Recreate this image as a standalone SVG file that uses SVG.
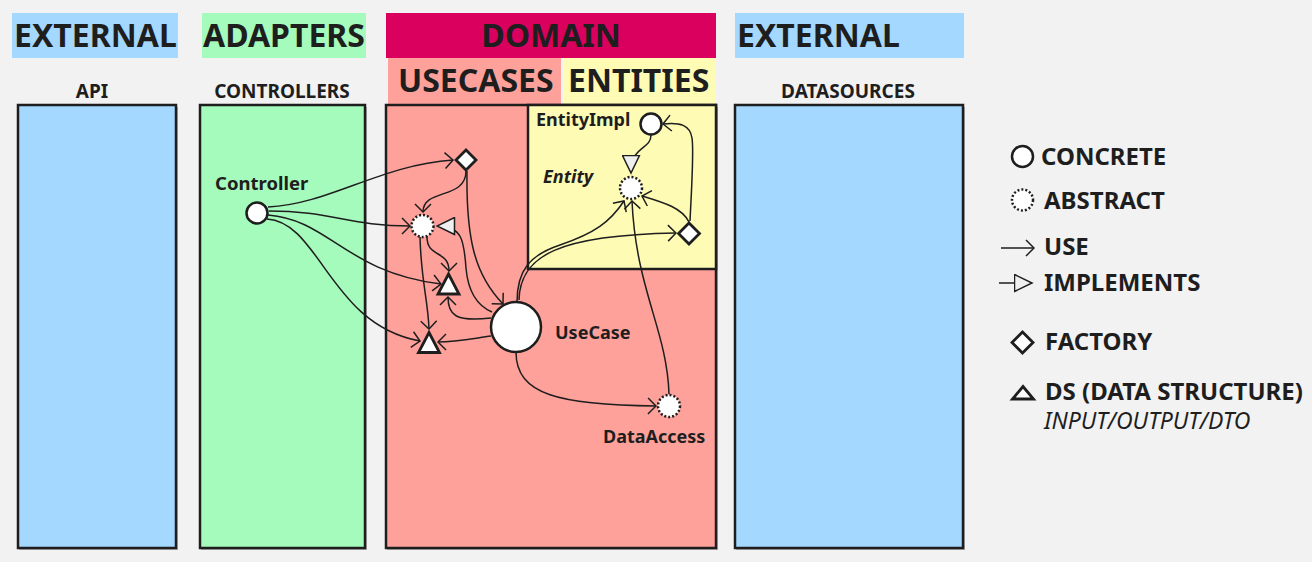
<svg xmlns="http://www.w3.org/2000/svg" width="1312" height="562" viewBox="0 0 1312 562">
<style>
text{font-family:"Noto Sans","Open Sans","Liberation Sans",sans-serif;fill:#1e1e1e;font-weight:bold}
.h{font-size:32px}
.sub{font-size:19px;text-anchor:middle}
.lbl{font-size:18px}
.ctl{font-size:18.5px}
.leg{font-size:24px}
.note{font-size:23px;font-style:italic;font-weight:normal}
.col{stroke:#1e1e1e;stroke-width:2.5}
.shadow{fill:#b0b0b0}
.conc{fill:#fff;stroke:#1e1e1e;stroke-width:2.5}
.abs{fill:#fff;stroke:#1e1e1e;stroke-width:2.5;stroke-dasharray:2 2}
.shape{fill:#fff;stroke:#1e1e1e;stroke-width:2.8;stroke-linejoin:miter}
.c{fill:none;stroke:#1e1e1e;stroke-width:1.5}
.u{marker-end:url(#use)}
.i{marker-end:url(#impl)}
</style>
<defs>
<marker id="use" viewBox="0 0 10 18" refX="9" refY="9" markerWidth="10" markerHeight="18" markerUnits="userSpaceOnUse" orient="auto">
<path d="M1,1 L9,9 L1,17" fill="none" stroke="#1e1e1e" stroke-width="1.5"/>
</marker>
<marker id="impl" viewBox="-1 -1 20 19" refX="17.5" refY="8.5" markerWidth="20" markerHeight="19" markerUnits="userSpaceOnUse" orient="auto">
<path d="M0,0 L17.5,8.5 L0,17 Z" fill="#efefef" stroke="#1e1e1e" stroke-width="1.5" stroke-linejoin="miter"/>
</marker>
</defs>
<rect width="1312" height="562" fill="#f2f2f2"/>

<g id="headers">
<rect x="12" y="13" width="166" height="45" fill="#a5d8ff"/>
<text class="h" x="14" y="47">EXTERNAL</text>
<rect x="202" y="13" width="164" height="45" fill="#a5fbbb"/>
<text class="h" x="203" y="47">ADAPTERS</text>
<rect x="386" y="13" width="330" height="45" fill="#d9005e"/>
<text class="h" x="551" y="47" text-anchor="middle">DOMAIN</text>
<rect x="388" y="58" width="173" height="46" fill="#ffa19b"/>
<text class="h" x="398" y="92">USECASES</text>
<rect x="563" y="58" width="153" height="46" fill="#fefbb5"/>
<text class="h" x="568" y="92">ENTITIES</text>
<rect x="735" y="13" width="229" height="45" fill="#a5d8ff"/>
<text class="h" x="737" y="47">EXTERNAL</text>
</g>

<g id="col-api">
<rect class="shadow" x="19" y="107" width="159" height="443"/>
<rect class="col" x="18" y="105" width="158" height="443" fill="#a5d8ff"/>
<text class="sub" x="92" y="98">API</text>
</g>
<g id="col-controllers">
<rect class="shadow" x="201" y="107" width="166" height="443"/>
<rect class="col" x="200" y="105" width="165" height="443" fill="#a5fbbb"/>
<text class="sub" x="282" y="98">CONTROLLERS</text>
</g>
<g id="col-usecases">
<rect class="shadow" x="387" y="107" width="331" height="443"/>
<rect class="col" x="386" y="105" width="330" height="443" fill="#ffa19b"/>
</g>
<g id="col-entities">
<rect class="col" x="528" y="105" width="188" height="164" fill="#fefbb5"/>
</g>
<g id="col-datasources">
<rect class="shadow" x="736" y="107" width="229" height="443"/>
<rect class="col" x="735" y="105" width="228" height="443" fill="#a5d8ff"/>
<text class="sub" x="848" y="98">DATASOURCES</text>
</g>

<g id="connectors">
<path class="c u" d="M268,207 C330,204 380,165 453,160"/>
<path class="c u" d="M269,211 C330,211 350,226 410,226"/>
<path class="c u" d="M268,215 C330,220 345,272 441,284"/>
<path class="c u" d="M267,219 C320,222 330,325 420,341"/>
<path class="c u" d="M466,171 C466,200 423,188 423,212"/>
<path class="c u" d="M467,171 C466,240 475,275 503,304"/>
<path class="c u" d="M427,237 C427,258 449,250 449,271"/>
<path class="c u" d="M420,237 C421,280 428,300 429,329"/>
<path class="c u" d="M491,318 C455,322 448,315 448,297"/>
<path class="c u" d="M491,336 C470,339 455,342 438,342"/>
<path class="c i" d="M492,312 C478,306 468,292 466,268 C464,240 462,226 437,226"/>
<path class="c u" d="M517,302 C517,270 530,255 560,245 C595,233 610,222 624,201"/>
<path class="c u" d="M519,300 C520,255 560,235 676,233"/>
<path class="c u" d="M669,394 C667,330 636,290 632,201"/>
<path class="c u" d="M689,222 C682,208 665,203 642,196"/>
<path class="c u" d="M690,221 C692,180 694,150 692,138 C690,125 680,122 663,124"/>
<path class="c u" d="M516,352 C516,395 560,405 656,406"/>
<path class="c i" d="M651,135 C651,150 631,145 631,173"/>
</g>

<g id="controller">
<circle class="conc" cx="257" cy="213" r="10.5"/>
<text class="ctl" x="215" y="190">Controller</text>
</g>
<g id="usecase-factory">
<polygon class="shape" points="466,150 476,160 466,170 456,160"/>
</g>
<g id="usecase-interface">
<circle class="abs" cx="422.5" cy="226" r="11"/>
</g>
<g id="ds-1">
<polygon class="shape" points="448.5,274 459,294 438,294"/>
</g>
<g id="ds-2">
<polygon class="shape" points="429,332.5 439.5,352.5 418.5,352.5"/>
</g>
<g id="usecase">
<circle class="conc" cx="516" cy="327" r="25"/>
<text class="lbl" x="555" y="339">UseCase</text>
</g>
<g id="data-access">
<circle class="abs" cx="669" cy="406" r="11"/>
<text class="lbl" x="603" y="443">DataAccess</text>
</g>
<g id="entity-impl">
<circle class="conc" cx="651" cy="124" r="10.5"/>
<text class="lbl" x="536" y="126">EntityImpl</text>
</g>
<g id="entity">
<circle class="abs" cx="631" cy="188" r="11"/>
<text class="lbl" x="543" y="183" font-style="italic">Entity</text>
</g>
<g id="entity-factory">
<polygon class="shape" points="689,223 699.5,233.5 689,244 678.5,233.5"/>
</g>

<g id="legend">
<circle class="conc" cx="1022.5" cy="156.5" r="10.5"/>
<text class="leg" x="1041" y="165">CONCRETE</text>
<circle class="abs" cx="1022.5" cy="200" r="10.5"/>
<text class="leg" x="1044" y="209">ABSTRACT</text>
<path class="c u" d="M1001,248 L1034,248"/>
<text class="leg" x="1044" y="255">USE</text>
<path class="c i" d="M999,283 L1032,283"/>
<text class="leg" x="1044" y="291">IMPLEMENTS</text>
<polygon class="shape" points="1022.5,332 1033,342.5 1022.5,353 1012,342.5"/>
<text class="leg" x="1045" y="350">FACTORY</text>
<polygon class="shape" points="1023,386.5 1033.5,399 1012.5,399"/>
<text class="leg" x="1045" y="400">DS (DATA STRUCTURE)</text>
<text class="note" x="1044" y="429">INPUT/OUTPUT/DTO</text>
</g>
</svg>
